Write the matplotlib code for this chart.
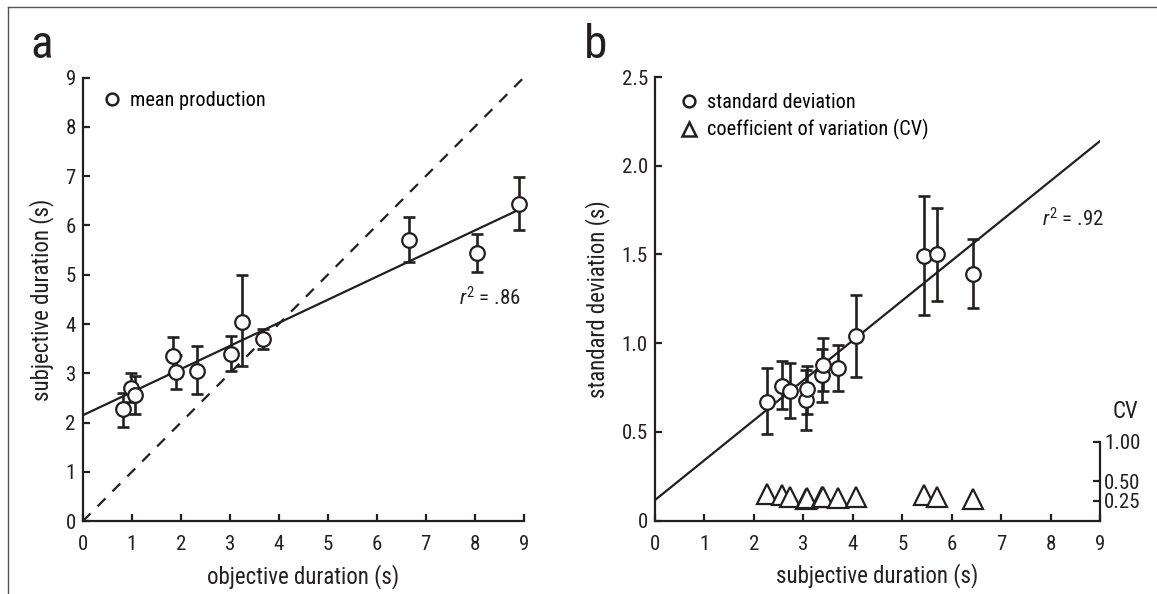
"""
Produced duration (a) and variability (b) versus duration.
"""

import numpy as np
import matplotlib
matplotlib.use("Agg")
import matplotlib.pyplot as plt
from matplotlib.lines import Line2D

plt.rcParams['font.family'] = ['Roboto Condensed', 'DejaVu Sans']
plt.rcParams['mathtext.fontset'] = 'custom'
plt.rcParams['mathtext.rm'] = 'Roboto Condensed'
plt.rcParams['mathtext.it'] = 'Roboto Condensed:italic'

INK = '#231f20'

# Panel a: mean production vs objective duration
objective = [0.83, 0.98, 1.07, 1.85, 1.90, 2.33, 3.02, 3.25, 3.67, 6.65, 8.05, 8.91]
subjective = [2.27, 2.71, 2.57, 3.36, 3.03, 3.05, 3.40, 4.05, 3.70, 5.71, 5.44, 6.44]
subj_low = [1.91, 2.41, 2.18, 2.98, 2.68, 2.58, 3.04, 3.15, 3.50, 5.25, 5.06, 5.91]
subj_high = [2.60, 3.01, 2.94, 3.74, 3.38, 3.55, 3.75, 5.00, 3.90, 6.18, 5.83, 6.98]
fit_a_x = [0, 8.9]
fit_a_y = [2.15, 6.32]
identity_x = [0, 9]
identity_y = [0, 9]

# Panel b: standard deviation and CV vs subjective duration
subj_b = [2.26, 2.57, 2.73, 3.05, 3.07, 3.37, 3.39, 3.70, 4.07, 5.44, 5.70, 6.44]
sd = [0.67, 0.76, 0.73, 0.68, 0.74, 0.82, 0.88, 0.86, 1.04, 1.49, 1.50, 1.39]
sd_low = [0.49, 0.63, 0.58, 0.51, 0.60, 0.67, 0.73, 0.73, 0.81, 1.16, 1.24, 1.20]
sd_high = [0.86, 0.90, 0.89, 0.85, 0.87, 0.97, 1.03, 0.99, 1.27, 1.83, 1.76, 1.59]
cv = [0.34, 0.32, 0.30, 0.27, 0.29, 0.30, 0.30, 0.29, 0.30, 0.33, 0.30, 0.27]
fit_b_x = [0, 9]
fit_b_y = [0.115, 2.14]

W, H = 1157, 594
fig = plt.figure(figsize=(W / 100, H / 100), dpi=100)
ax_a = fig.add_axes([82.7 / W, 1 - 521.3 / H, 441 / W, 443.7 / H])
ax_b = fig.add_axes([654.7 / W, 1 - 520.7 / H, 445.5 / W, 443.7 / H])


def style_axes(ax):
    for side in ['top', 'right']:
        ax.spines[side].set_visible(False)
    for side in ['left', 'bottom']:
        ax.spines[side].set_linewidth(1.6)
        ax.spines[side].set_color(INK)
    ax.tick_params(direction='in', length=5, width=1.6, color=INK,
                   labelsize=15, labelcolor=INK)
    ax.tick_params(axis='x', pad=10)
    ax.tick_params(axis='y', pad=5)
    ax.patch.set_alpha(0)


def draw_errors(ax, x, y, low, high):
    y = np.array(y)
    err = [y - np.array(low), np.array(high) - y]
    ax.errorbar(x, y, yerr=err, fmt='none', ecolor=INK, elinewidth=1.9,
                capsize=4.6, capthick=1.9, zorder=3, clip_on=False)
    ax.plot(x, y, 'o', ms=10.5, mfc='white', mec=INK, mew=1.6, zorder=4,
            clip_on=False)


def add_legend(ax, handles, labels, anchor):
    ax.legend(handles, labels, loc='upper left', frameon=False, fontsize=14.6,
              handlelength=0.8, handletextpad=0.49, labelspacing=0.36,
              borderpad=0, borderaxespad=0, bbox_to_anchor=anchor)


# ---- panel a ----
style_axes(ax_a)
ax_a.plot(identity_x, identity_y, color=INK, lw=1.6, ls=(0, (5, 4.5)), zorder=2)
ax_a.plot(fit_a_x, fit_a_y, color=INK, lw=1.6, zorder=2)
draw_errors(ax_a, objective, subjective, subj_low, subj_high)
ax_a.set_xlim(0, 9)
ax_a.set_ylim(0, 9)
ax_a.set_xticks(range(10))
ax_a.set_yticks(range(10))
ax_a.set_xlabel('objective duration (s)', fontsize=16.5, color=INK, labelpad=7)
ax_a.set_ylabel('subjective duration (s)', fontsize=16.5, color=INK, labelpad=8)
ax_a.text(8.31, 4.53, r'$r^2$ = .86', fontsize=15, ha='center', va='center',
          color=INK)
h_mean = Line2D([], [], ls='none', marker='o', ms=8.5, mfc='white', mec=INK, mew=1.8)
add_legend(ax_a, [h_mean], ['mean production'], (0.048, 0.970))

# ---- panel b ----
style_axes(ax_b)
ax_b.plot(fit_b_x, fit_b_y, color=INK, lw=1.6, zorder=2)
draw_errors(ax_b, subj_b, sd, sd_low, sd_high)
ax_b.set_xlim(0, 9)
ax_b.set_ylim(0, 2.5)
ax_b.set_xticks(range(10))
ax_b.set_yticks([0, 0.5, 1.0, 1.5, 2.0, 2.5])
ax_b.set_yticklabels(['0', '0.5', '1.0', '1.5', '2.0', '2.5'])
ax_b.set_xlabel('subjective duration (s)', fontsize=16.5, color=INK, labelpad=7)
ax_b.set_ylabel('standard deviation (s)', fontsize=16.5, color=INK, labelpad=8)
ax_b.text(8.44, 1.70, r'$r^2$ = .92', fontsize=15, ha='center', va='center',
          color=INK)

ax_cv = ax_b.twinx()
ax_cv.set_ylim(0, 2.5 * 177.5 / 79)
ax_cv.plot(subj_b, cv, '^', ms=14, mfc='white', mec=INK, mew=1.6, zorder=4,
           clip_on=False)
for side in ['top', 'left', 'bottom']:
    ax_cv.spines[side].set_visible(False)
ax_cv.spines['right'].set_bounds(0, 1)
ax_cv.spines['right'].set_linewidth(1.6)
ax_cv.spines['right'].set_color(INK)
ax_cv.set_yticks([0.25, 0.5, 1.0])
ax_cv.set_yticklabels(['0.25', '0.50', '1.00'])
ax_cv.tick_params(direction='in', length=5, width=1.6, color=INK,
                  labelsize=15, labelcolor=INK, pad=3)
ax_cv.text(9.52 / 9, 1.387 / ax_cv.get_ylim()[1], 'CV', transform=ax_cv.transAxes,
           fontsize=16.5, ha='center', va='center', color=INK)

h_sd = Line2D([], [], ls='none', marker='o', ms=8.5, mfc='white', mec=INK, mew=1.8)
h_cv = Line2D([], [], ls='none', marker='^', ms=10.5, mfc='white', mec=INK, mew=1.8)
add_legend(ax_b, [h_sd, h_cv], ['standard deviation', 'coefficient of variation (CV)'],
           (0.059, 0.964))

# panel letters
fig.text(42 / W, 1 - 45 / H, 'a', fontsize=34, ha='center', va='center', color=INK)
fig.text(596 / W, 1 - 45 / H, 'b', fontsize=34, ha='center', va='center', color=INK)

# frame lines at top and left
fig.add_artist(Line2D([8.3 / W, 1], [1 - 7 / H, 1 - 7 / H], color='#555555', lw=1,
                      transform=fig.transFigure))
fig.add_artist(Line2D([8.3 / W, 8.3 / W], [0, 1 - 7 / H], color='#555555', lw=1,
                      transform=fig.transFigure))

fig.savefig('out.png', dpi=100)
